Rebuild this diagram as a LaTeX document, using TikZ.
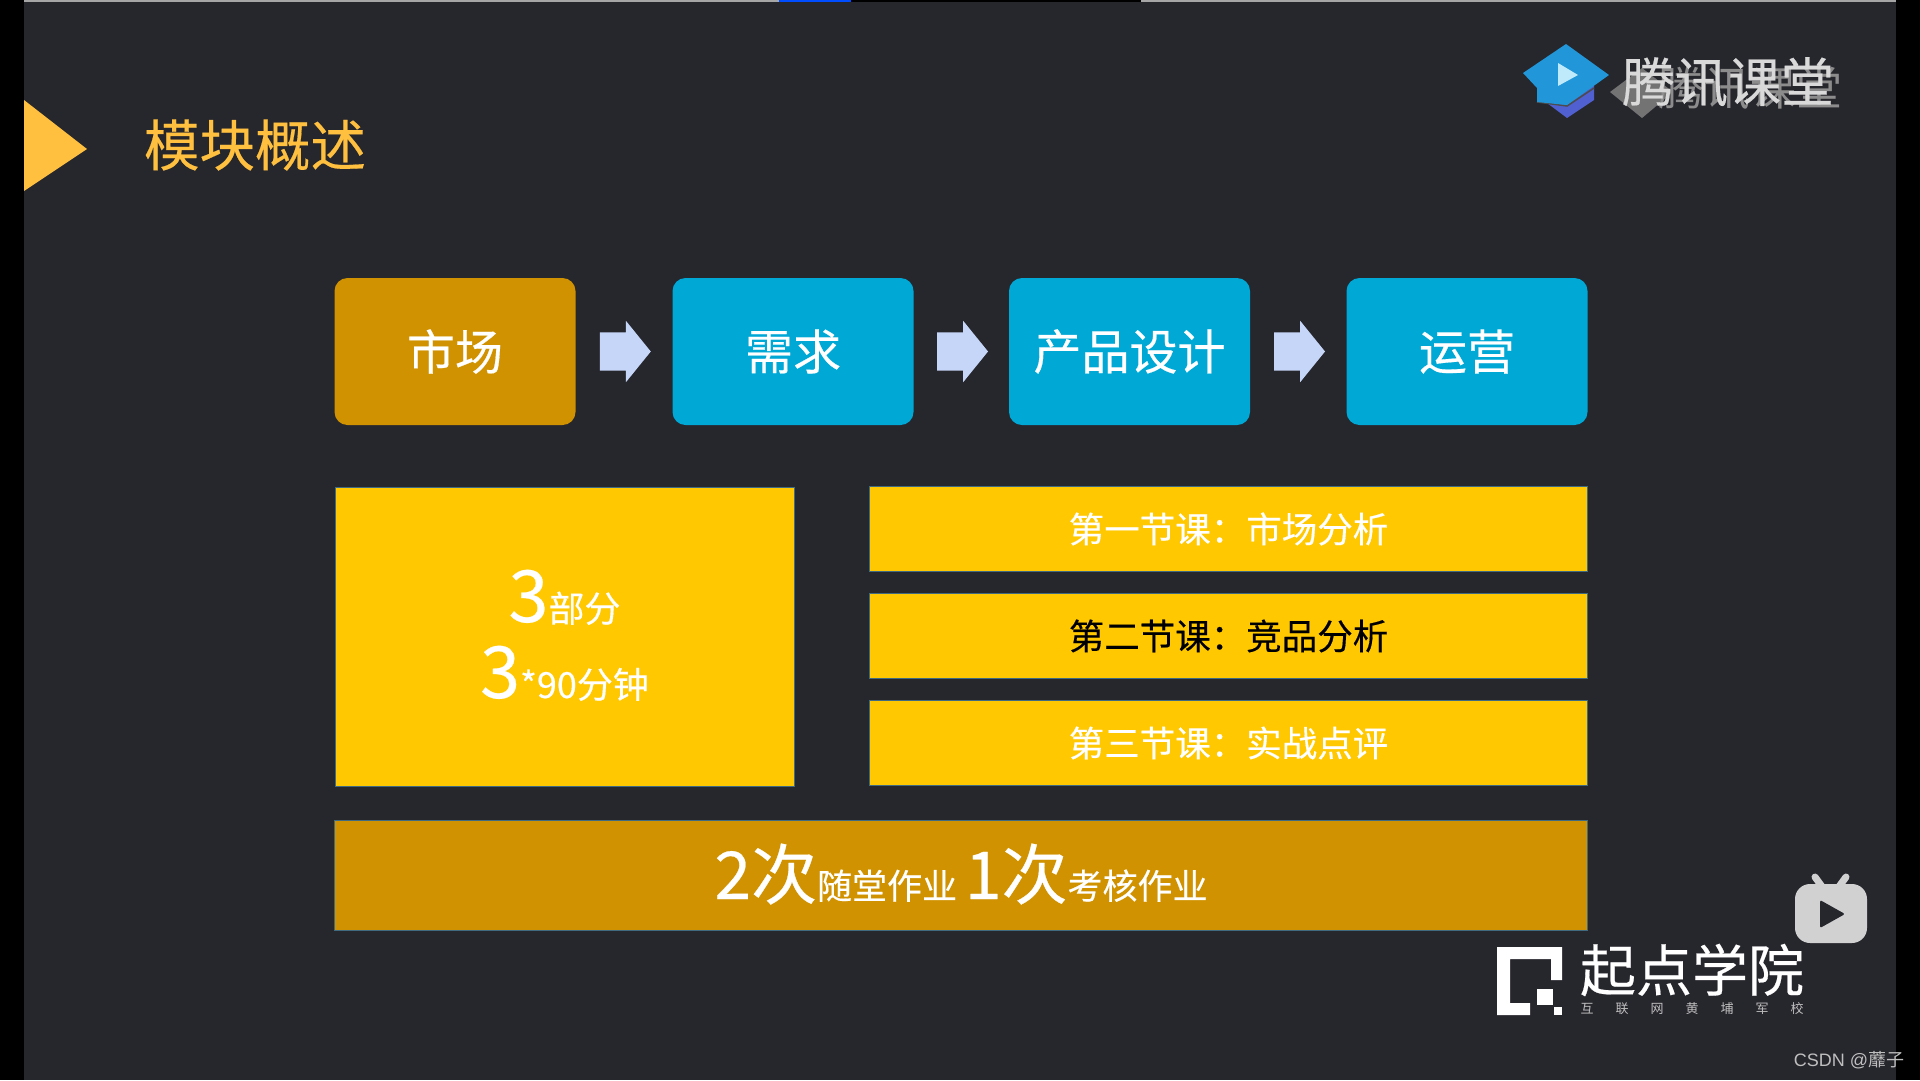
\documentclass[tikz,border=0pt]{standalone}
\usepackage{fontspec}
\setmainfont{Noto Sans CJK SC}[FakeBold=0.35]
\newfontfamily\latinfont{Liberation Sans}
\newfontfamily\thinfont{Noto Sans CJK SC}
\usetikzlibrary{shapes.arrows,calc}
\definecolor{slidebg}{HTML}{26262D}
\definecolor{goldbox}{HTML}{D09200}
\definecolor{cyanbox}{HTML}{00A8D6}
\definecolor{yellowbox}{HTML}{FFC800}
\definecolor{arrowblue}{HTML}{C6D6F8}
\definecolor{titleorange}{HTML}{FFC040}
\definecolor{edgeblue}{HTML}{3F6A80}
\definecolor{logotop}{HTML}{2196D8}
\definecolor{logolow}{HTML}{5060D0}
\newcommand{\fs}[1]{\fontsize{#1}{#1}\selectfont}

\begin{document}
\begin{tikzpicture}[x=1pt,y=-1pt,
 flowbox/.style={draw=none,rounded corners=13pt,minimum width=241pt,minimum height=147pt,inner sep=0pt,text=white,font=\fs{48}},
 lessonbox/.style={draw=edgeblue,line width=.8pt,fill=yellowbox,minimum width=718pt,minimum height=85pt,inner sep=0pt,font=\fs{35.5}},
 flowarrow/.style={single arrow,fill=arrowblue,draw=none,minimum width=61pt,minimum height=51pt,single arrow head extend=11.5pt,single arrow tip angle=102,inner xsep=0pt,inner ysep=19pt,xshift=-6.5pt}]
\useasboundingbox (0,0) rectangle (1920,1080);
\fill[black] (0,0) rectangle (1920,1080);
\fill[slidebg] (24,0) rectangle (1896,1080);
\fill[black!35] (24,0) rectangle (1896,2);
\fill[black] (851,0) rectangle (1141,2);
\fill[blue!70!cyan] (779,0) rectangle (851,2);
% title
\fill[titleorange] (24,100) -- (87,149) -- (24,191) -- cycle;
\node[text=titleorange,font=\fs{55.5},inner sep=0pt] (title) at (255,145) {模块概述};
% flow row
\node[flowbox,fill=goldbox] (market) at (455,351.5) {市场};
\node[flowbox,fill=cyanbox] (demand) at (793,351.5) {需求};
\node[flowbox,fill=cyanbox] (design) at (1129.5,351.5) {产品设计};
\node[flowbox,fill=cyanbox] (operate) at (1467,351.5) {运营};
\foreach \a/\b in {market/demand,demand/design,design/operate}
 \path (\a) -- node[flowarrow] {} (\b);
% lessons
\node[draw=edgeblue,line width=.8pt,fill=yellowbox,minimum width=459pt,minimum height=299pt,inner sep=0pt] (parts) at (564.5,636.5) {};
\node[text=white,inner sep=0pt,anchor=base] (partsa) at (564.5,622) {\fs{72}3\fs{36}部分};
\node[text=white,inner sep=0pt,anchor=base] (partsb) at (564.5,698) {\fs{72}3\fs{36}*90分钟};
\node[lessonbox,text=white] (one) at (1228.5,529) {第一节课：市场分析};
\node[lessonbox,text=black] (two) at (1228.5,636) {第二节课：竞品分析};
\node[lessonbox,text=white] (three) at (1228.5,743) {第三节课：实战点评};
\node[draw=edgeblue,line width=.8pt,fill=goldbox,minimum width=1253pt,minimum height=110pt,inner sep=0pt] (homework) at (961,875) {};
\node[text=white,inner sep=0pt,anchor=base] (homeworktext) at (961,899) {\fs{66}2次\fs{35}随堂作业 \fs{66}1次\fs{35}考核作业};
% tencent logo
\fill[black!55] (1610,92) -- (1642,68) -- (1673,92) -- (1642,118) -- cycle;
\fill[logolow] (1543,100) -- (1567,118) -- (1594,100) -- (1594,86) -- (1543,86) -- cycle;
\draw[black!70,line width=1.5pt] (1537,102) -- (1567,106) -- (1594,88);
\fill[logotop] (1566,44) -- (1609,75) -- (1567,105) -- (1537,102) -- (1537,88) -- (1523,73) -- cycle;
\fill[cyan!25] (1558,63) -- (1578,75) -- (1558,86) -- cycle;
\node[text=black!45,font=\thinfont\fs{46},inner sep=0pt] (ghost) at (1750,88) {腾讯课堂};
\node[text=white!85!black,font=\fs{53},inner sep=0pt] (tencent) at (1728,82) {腾讯课堂};
% tv icon
\draw[black!18,line width=7pt,line cap=round] (1815,877) -- (1823,888) (1846,877) -- (1838,888);
\fill[black!18,rounded corners=15pt] (1795,884) rectangle (1867,943);
\fill[slidebg,rounded corners=2pt] (1820,900) -- (1845,914) -- (1820,928) -- cycle;
% qidian logo
\fill[white] (1530,1015) -- (1497,1015) -- (1497,947) -- (1562,947) -- (1562,980) -- (1551,980) -- (1551,959) -- (1510,959) -- (1510,1003) -- (1530,1003) -- cycle;
\fill[white] (1537,989) rectangle (1553,1005);
\fill[white] (1554,1007) rectangle (1562,1015);
\node[text=white,font=\fs{56},inner sep=0pt] (qidian) at (1692,970) {起点学院};
\node[text=white!75!black,font=\thinfont\fs{13},inner sep=0pt] (qidiansub) at (1692,1009) {互\hspace{22pt}联\hspace{22pt}网\hspace{22pt}黄\hspace{22pt}埔\hspace{22pt}军\hspace{22pt}校};
% watermark
\node[text=white!75!black,font=\thinfont\fs{18},inner sep=0pt] (csdn) at (1849,1060) {{\latinfont CSDN @}蘼子};
\end{tikzpicture}
\end{document}
